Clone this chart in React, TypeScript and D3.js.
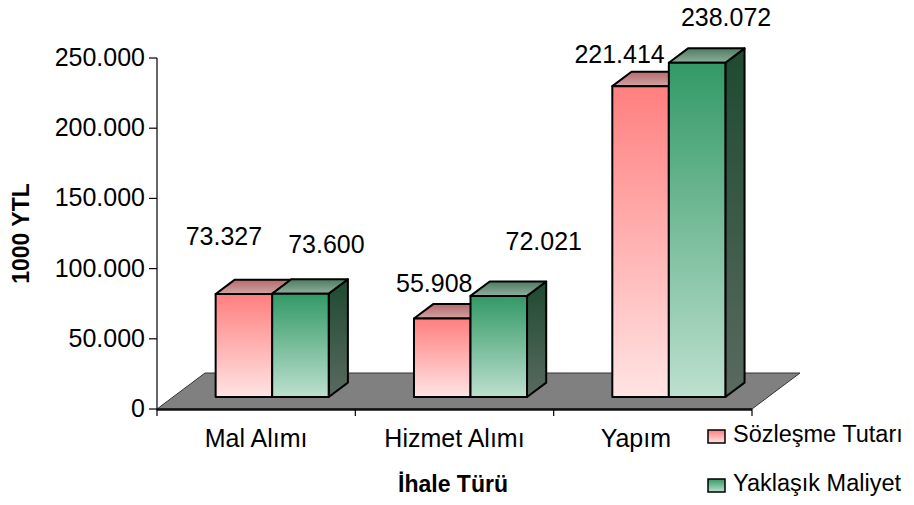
import * as d3 from 'd3';

const categories = ['Mal Alımı', 'Hizmet Alımı', 'Yapım'];
const seriesNames = ['Sözleşme Tutarı', 'Yaklaşık Maliyet'];
const sozlesme = [73327, 55908, 221414];
const yaklasik = [73600, 72021, 238072];
const yTicks = [0, 50000, 100000, 150000, 200000, 250000];

// hand-tuned label nudges (dx, dy) from the bar's top-front centre, like the original
const labelNudge = [
  [[-20, -49], [26, -41]],
  [[-8, -27], [45, -46]],
  [[-21, -23], [29, -37]],
];
const catLabelNudge = [0, 0, -17];

const W = 914;
const H = 505;
const FONT = '"Liberation Sans", Arial, sans-serif';

const trLocale = d3.formatLocale({ decimal: ',', thousands: '.', grouping: [3], currency: ['', ' YTL'] });
const fmt = trLocale.format(',d');

// floor depth vector (full depth)
const DX = 48;
const DY = -36;
const F1 = 1 / 3; // bar front depth
const FD = 0.4; // bar depth

const seriesStyle = [
  { id: 'red', front: ['#ff7f7f', '#ffe4e4'], top: ['#b86a6a', '#cfa4a4'], side: ['#8a3b3b', '#b08a8a'] },
  { id: 'green', front: ['#339966', '#bde0cf'], top: ['#4d7d62', '#8fae9c'], side: ['#1e4a31', '#5a6a60'] },
];

export default function App() {
  const x0 = 157;
  const x1 = 752;
  const y = d3.scaleLinear().domain([0, 250000]).range([409, 58]);
  const xCat = d3.scaleBand<string>().domain(categories).range([x0, x1]).paddingInner(0.43).paddingOuter(0.215);
  const xSer = d3.scaleBand<string>().domain(seriesNames).range([0, xCat.bandwidth()]);
  const step = xCat.step();
  const values = [sozlesme, yaklasik];

  const fx = F1 * DX;
  const fy = F1 * DY;
  const bx = FD * DX;
  const by = FD * DY;

  const floor = [
    [x0, y(0)],
    [x1, y(0)],
    [x1 + DX, y(0) + DY],
    [x0 + DX, y(0) + DY],
  ];

  const bars: any[] = [];
  categories.forEach((c, ci) => {
    seriesNames.forEach((s, si) => {
      const v = values[si][ci];
      const left = (xCat(c) as number) + (xSer(s) as number) + fx;
      const w = xSer.bandwidth();
      const bottom = y(0) + fy;
      const top = y(v) + fy;
      bars.push({ c, ci, s, si, v, left, w, bottom, top });
    });
  });

  const pts = (p: number[][]) => p.map((q) => q.join(',')).join(' ');

  return (
    <svg width={W} height={H} style={{ position: 'absolute', left: 0, top: 0, background: '#fff' }} fontFamily={FONT}>
      <defs>
        {seriesStyle.map((st) => (
          <g key={st.id}>
            <linearGradient id={`front-${st.id}`} x1="0" y1="0" x2="0" y2="1">
              <stop offset="0" stopColor={st.front[0]} />
              <stop offset="1" stopColor={st.front[1]} />
            </linearGradient>
            <linearGradient id={`top-${st.id}`} x1="0" y1="0" x2="0" y2="1">
              <stop offset="0" stopColor={st.top[0]} />
              <stop offset="1" stopColor={st.top[1]} />
            </linearGradient>
            <linearGradient id={`side-${st.id}`} x1="0" y1="0" x2="0" y2="1">
              <stop offset="0" stopColor={st.side[0]} />
              <stop offset="1" stopColor={st.side[1]} />
            </linearGradient>
          </g>
        ))}
      </defs>

      {/* floor */}
      <polygon points={pts(floor)} fill="#808080" stroke="#333" strokeWidth={1} />

      {/* bars */}
      {bars.map((b, i) => {
        const st = seriesStyle[b.si];
        const { left, w, bottom, top } = b;
        const right = left + w;
        const front = [[left, top], [right, top], [right, bottom], [left, bottom]];
        const topFace = [[left, top], [left + bx, top + by], [right + bx, top + by], [right, top]];
        const side = [[right, top], [right + bx, top + by], [right + bx, bottom + by], [right, bottom]];
        return (
          <g key={i} stroke="#000" strokeWidth={2} strokeLinejoin="round">
            <polygon points={pts(side)} fill={`url(#side-${st.id})`} />
            <polygon points={pts(topFace)} fill={`url(#top-${st.id})`} />
            <polygon points={pts(front)} fill={`url(#front-${st.id})`} />
          </g>
        );
      })}

      {/* data labels */}
      {bars.map((b, i) => {
        const [dx, dy] = labelNudge[b.ci][b.si];
        return (
          <text key={`l${i}`} x={b.left + b.w / 2 + dx} y={b.top + dy} textAnchor="middle" fontSize={25} fill="#000">
            {fmt(b.v)}
          </text>
        );
      })}

      {/* y axis */}
      <line x1={x0} x2={x0} y1={y(250000)} y2={y(0) + 1.5} stroke="#000" strokeWidth={1.2} />
      {yTicks.map((t) => (
        <g key={t}>
          <line x1={x0 - 8} x2={x0} y1={y(t)} y2={y(t)} stroke="#000" strokeWidth={1.2} />
          <text x={x0 - 12} y={y(t)} dy="0.32em" textAnchor="end" fontSize={25} fill="#000">
            {fmt(t)}
          </text>
        </g>
      ))}

      {/* x axis */}
      <line x1={x0} x2={x1} y1={y(0) + 0.5} y2={y(0) + 0.5} stroke="#111" strokeWidth={2.5} />
      {d3.range(categories.length + 1).map((i) => (
        <line key={i} x1={x0 + i * step} x2={x0 + i * step} y1={y(0)} y2={y(0) + 7} stroke="#000" strokeWidth={1.2} />
      ))}
      {categories.map((c, i) => (
        <text key={c} x={(xCat(c) as number) + xCat.bandwidth() / 2 + catLabelNudge[i]} y={447} textAnchor="middle" fontSize={25} fill="#000">
          {c}
        </text>
      ))}

      {/* axis titles */}
      <text x={453} y={492} textAnchor="middle" fontSize={23} fontWeight="bold" fill="#000">
        İhale Türü
      </text>
      <text transform={`translate(29,${(y(0) + y(250000)) / 2}) rotate(-90)`} textAnchor="middle" fontSize={23} fontWeight="bold" fill="#000">
        1000 YTL
      </text>

      {/* legend */}
      {seriesNames.map((s, i) => (
        <g key={s} transform={`translate(708,${430 + i * 49})`}>
          <rect x={0} y={0} width={17} height={13} fill={`url(#front-${seriesStyle[i].id})`} stroke="#000" strokeWidth={1.5} />
          <text x={25} y={12} fontSize={23.5} fill="#000">
            {s}
          </text>
        </g>
      ))}
    </svg>
  );
}
